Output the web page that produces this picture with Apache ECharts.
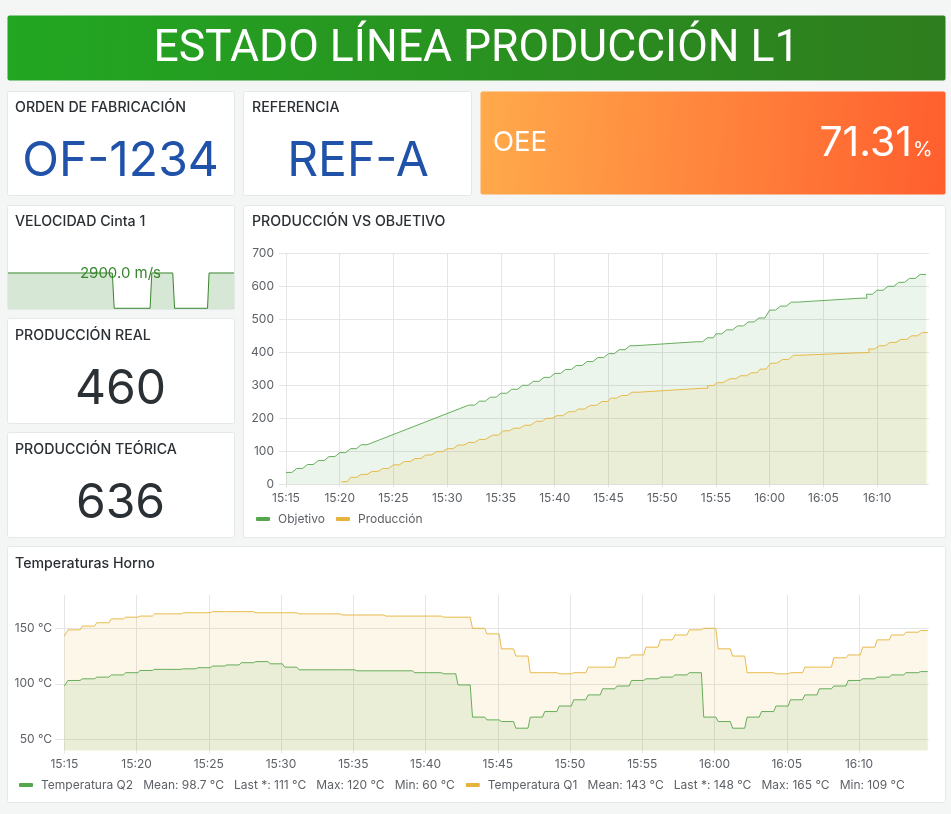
<!DOCTYPE html>
<html><head><meta charset="utf-8">
<style>html,body{margin:0;padding:0;background:#f4f5f5;overflow:hidden}#c{width:951px;height:814px}</style>
<script src="https://cdn.jsdelivr.net/npm/echarts@6/dist/echarts.min.js"></script>
</head><body><div id="c"></div>
<script>
// --- Data (minutes counted from 15:15) ---
const etiquetasHora=['15:15','15:20','15:25','15:30','15:35','15:40','15:45','15:50','15:55','16:00','16:05','16:10'];
const marcasPorcion=[0,100,200,300,400,500,600,700];
const marcasTemperatura=[50,100,150];
const objetivoMinutos=[0,1,2,3,4,5,6,7,17,18,19,20,21,22,23,24,25,26,27,28,29,30,31,32,38.2,39.2,40,41,42,43,44,45,46,47,53.5,54,55,56,57,58,59];
const objetivoValores=[36,48,60,72,84,96,108,120,240,252,264,276,288,300,312,324,336,348,360,372,384,396,408,420,432,444,456,468,480,492,504,528,540,552,564,576,588,600,612,624,636];
const produccionMinutos=[5.15,6,7,8,9,10,11,12,13,14,15,16,17,18,19.2,20.2,21.2,22.2,23.3,24.2,25.2,26.3,27.2,28.3,29.4,30.2,31.2,32.2,38.7,39.2,40.1,41.3,42.3,43.3,44.1,45.1,46.2,47.2,53.7,54.2,55.2,56.2,57.2,58.2,59.2];
const produccionValores=[8,21,30,39,48,59,69,78,89,99,108,119,127,136,149,162,170,179,191,200,208,220,228,239,251,261,269,279,291,299,308,320,329,338,349,367,378,391,399,410,420,430,439,450,460];
const q2Inicio=98, q1Inicio=143;
const q2Valores=[103,104.5,106,108,110,112,113,113,113.5,114.5,116,117,119,120,118,115,112.6,112.6,112.6,112.6,111.7,111.7,111.7,111.7,110,110,109,99,70,67.5,66,60,70,75,80,85.6,90,95.5,98,103,104.5,106,108,110,70,66,60,70,75,80,85.6,90,95.5,98,103,104.5,106,108,110,111];
const q1Valores=[148.6,152,155,158.5,160,161,163,163,164,164,165,165,165,164,164,164,163,163,163,162,162,162,161,161,161,161,160,160,150,145,131.5,125,110,110,109,110,115,115,123.4,126,133,139.6,144,148.6,150,131.5,125,110,110,109,110,115,115,123.4,126,133,139.6,144,146.5,148];
const velocidadMinutos=[0,27.6,28.1,37.6,38.05,43.6,44.07,52.8,53.2,59.8];
const velocidadValores=[2900,2900,0,0,2900,2900,0,0,2900,2900];
const leyendaTemperatura={'Temperatura Q2':'Temperatura Q2   Mean: 98.7 °C   Last *: 111 °C   Max: 120 °C   Min: 60 °C','Temperatura Q1':'Temperatura Q1   Mean: 143 °C   Last *: 148 °C   Max: 165 °C   Min: 109 °C'};

const FONT='Inter', MIN=60000, ini=new Date(2024,0,15,15,15,0).getTime();
const T=m=>ini+m*MIN;
const horaAValor=s=>{const [h,m]=s.split(':').map(Number);return new Date(2024,0,15,h,m,0).getTime();};
const valorAHora=v=>{const d=new Date(v);return String(d.getHours()).padStart(2,'0')+':'+String(d.getMinutes()).padStart(2,'0');};
const marcasHora=etiquetasHora.map(horaAValor);
function escalones(ms,vs,sost,fin){const o=[];ms.forEach((m,i)=>{o.push([T(Math.min(m,fin)),vs[i]]);o.push([T(Math.min(m+sost,fin)),vs[i]]);});return o;}
const objetivo=escalones(objetivoMinutos,objetivoValores,.55,59.7);
const produccion=escalones(produccionMinutos,produccionValores,.55,59.7);
const cada=vs=>vs.map((_,i)=>i+.25);
const q2=[[T(0),q2Inicio],[T(.08),q2Inicio]].concat(escalones(cada(q2Valores),q2Valores,.84,59.75));
const q1=[[T(0),q1Inicio],[T(.08),q1Inicio]].concat(escalones(cada(q1Valores),q1Valores,.84,59.75));
const velocidad=velocidadMinutos.map((m,i)=>[T(m),velocidadValores[i]]);

const GRIS='#e4e5e6', TXT='#5d6166', OSC='#2b3035', VERDE='#56a64b', AMARILLO='#e6b43a';
function panel(x,y,w,h,fill,sin){return {type:'rect',z:-5,shape:{x:x+.5,y:y+.5,width:w-1,height:h-1,r:2},style:{fill:fill||'#fff',stroke:sin?null:'#e5e8ea',lineWidth:1}};}
function texto(t,x,y,size,color,align,weight,fam){return {type:'text',z:50,x,y,style:{text:t,font:(weight||400)+' '+size+'px '+(fam||FONT),fill:color,align:align||'left',verticalAlign:'middle'}};}
function grad(a,b){return new echarts.graphic.LinearGradient(0,0,1,.25,[{offset:0,color:a},{offset:1,color:b}]);}
function ejeT(g,minm,maxm){return {type:'value',gridIndex:g,min:T(minm),max:T(maxm),axisLine:{show:false},axisTick:{show:true,length:3,customValues:marcasHora,lineStyle:{color:GRIS}},
  axisLabel:{show:true,customValues:marcasHora,formatter:valorAHora,color:TXT,fontFamily:FONT,fontSize:12,margin:8,hideOverlap:false},
  splitLine:{show:true,lineStyle:{color:GRIS,width:1}}};}
function linea(name,color,data,x,y){return {name,type:'line',xAxisIndex:x,yAxisIndex:y,data,showSymbol:false,symbol:'none',clip:true,lineStyle:{color,width:1,opacity:.9},itemStyle:{color},areaStyle:{color,opacity:.11},silent:true};}

const chart=echarts.init(document.getElementById('c'));
chart.setOption({
 animation:false,backgroundColor:'#f4f5f5',
 textStyle:{fontFamily:FONT},
 grid:[
  {left:8,width:226,top:263,height:46},
  {left:279,width:650,top:253.3,height:231},
  {left:55,width:874,top:595,height:155.4}
 ],
 xAxis:[
  {type:'time',gridIndex:0,min:T(0),max:T(59.8),show:false},
  ejeT(1,-.651,59.82),
  ejeT(2,-.643,59.84)
 ],
 yAxis:[
  {type:'value',gridIndex:0,min:-60,max:3720,show:false},
  {type:'value',gridIndex:1,min:0,max:700,axisLine:{show:false},axisTick:{show:false,customValues:marcasPorcion},axisLabel:{customValues:marcasPorcion,color:TXT,fontFamily:FONT,fontSize:12,margin:5},splitLine:{lineStyle:{color:GRIS,width:1}}},
  {type:'value',gridIndex:2,min:40,max:180,axisLine:{show:false},axisTick:{show:false,customValues:marcasTemperatura},axisLabel:{customValues:marcasTemperatura,color:TXT,fontFamily:FONT,fontSize:12,margin:3,formatter:'{value} °C'},splitLine:{lineStyle:{color:GRIS,width:1}}}
 ],
 legend:[
  {left:256,top:513,data:['Objetivo','Producción'],icon:'roundRect',itemWidth:14,itemHeight:4,itemGap:11,selectedMode:false,textStyle:{color:TXT,fontFamily:FONT,fontSize:12,padding:[0,0,0,3]},padding:0},
  {left:19,top:779,data:['Temperatura Q2','Temperatura Q1'],icon:'roundRect',itemWidth:14,itemHeight:4,itemGap:11,selectedMode:false,formatter:n=>leyendaTemperatura[n],textStyle:{color:TXT,fontFamily:FONT,fontSize:12,padding:[0,0,0,3]},padding:0}
 ],
 series:[
  {name:'Velocidad',type:'line',xAxisIndex:0,yAxisIndex:0,data:velocidad,showSymbol:false,symbol:'none',lineStyle:{color:'#37872d',width:1},areaStyle:{color:'#37872d',opacity:.2,origin:'start'},silent:true},
  linea('Objetivo',VERDE,objetivo,1,1),
  linea('Producción',AMARILLO,produccion,1,1),
  linea('Temperatura Q2',VERDE,q2,2,2),
  linea('Temperatura Q1',AMARILLO,q1,2,2)
 ],
 graphic:{elements:[
  panel(7,15,939,66,grad('#22a722','#2f7d1e'),true),
  panel(7,91,228,105),panel(243,91,229,105),
  panel(480,91,466,104,grad('#ffaa4b','#ff5f2e'),true),
  panel(7,205,228,105),panel(7,318,228,106),panel(7,432,228,106),
  panel(243,205,703,333),panel(7,546,939,257),
  texto('ESTADO LÍNEA PRODUCCIÓN L1',476.5,50,44.5,'#fff','center',400,'Roboto'),
  texto('ORDEN DE FABRICACIÓN',15,108,14.2,OSC,'left',500),
  texto('REFERENCIA',252,108,14.2,OSC,'left',500),
  texto('OF-1234',120.5,162,48,'#1f52a8','center'),
  texto('REF-A',358,162,48,'#1f52a8','center'),
  texto('OEE',493,143,27.5,'#fff'),
  texto('71.31',912,144,41,'#fff','right'),
  texto('%',913,150,20,'#fff'),
  texto('VELOCIDAD Cinta 1',15,222,14.2,OSC,'left',500),
  texto('2900.0 m/s',120.5,273,15,'#37872d','center'),
  texto('PRODUCCIÓN REAL',15,336,14.2,OSC,'left',500),
  texto('460',120.5,390,48,OSC,'center'),
  texto('PRODUCCIÓN TEÓRICA',15,450,14.2,OSC,'left',500),
  texto('636',120.5,504,48,OSC,'center'),
  texto('PRODUCCIÓN VS OBJETIVO',252,222,14.2,OSC,'left',500),
  texto('Temperaturas Horno',15,564,14.2,OSC,'left',500)
 ]}
});
</script></body></html>
